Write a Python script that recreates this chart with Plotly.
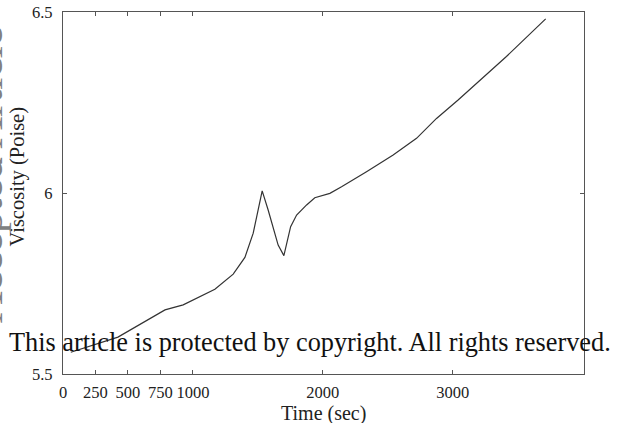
import plotly.graph_objects as go

# Viscosity measured over time
time_sec = [60, 423, 785, 925, 1169, 1310, 1400, 1464, 1533, 1579, 1656, 1700,
            1752, 1798, 1875, 1938, 2054, 2144, 2336, 2541, 2721, 2875, 3041,
            3156, 3413, 3715]
viscosity = [5.560, 5.602, 5.677, 5.691, 5.734, 5.776, 5.822, 5.889, 6.006,
             5.953, 5.856, 5.827, 5.907, 5.939, 5.967, 5.987, 5.999, 6.017,
             6.059, 6.105, 6.151, 6.206, 6.257, 6.294, 6.377, 6.481]

x_ticks = [0, 250, 500, 750, 1000, 2000, 3000]
y_ticks = [5.5, 6, 6.5]
y_tick_text = ["5.5", "6", "6.5"]

SERIF = "Liberation Serif, Times New Roman, serif"
INK = "#222222"

fig = go.Figure()
fig.add_trace(go.Scatter(
    x=time_sec, y=viscosity, mode="lines",
    line=dict(color="#333333", width=1.2),
    showlegend=False,
))

axis_common = dict(
    showline=True, linecolor="#555555", linewidth=1.3, mirror="ticks",
    ticks="inside", ticklen=4, tickcolor="#555555", tickwidth=1,
    showgrid=False, zeroline=False, automargin=False,
    tickfont=dict(family=SERIF, size=16.5, color=INK),
)

fig.update_xaxes(
    range=[0, 4010], tickvals=x_ticks, ticktext=[str(v) for v in x_ticks],
    tickangle=0, ticklabelstandoff=3,
    **axis_common,
)
fig.update_yaxes(
    range=[5.5, 6.5], tickvals=y_ticks, ticktext=y_tick_text,
    tickangle=0, ticklabelstandoff=6,
    **axis_common,
)

# Axis titles
fig.add_annotation(
    text="Time (sec)", xref="paper", yref="paper", x=0.5, y=-0.108,
    xanchor="center", yanchor="middle", showarrow=False,
    font=dict(family=SERIF, size=20, color=INK),
)
fig.add_annotation(
    text="Viscosity (Poise)", xref="paper", yref="paper", x=-0.087, y=0.545,
    xanchor="center", yanchor="middle", textangle=-90, showarrow=False,
    font=dict(family=SERIF, size=20.5, color=INK),
)

# Journal watermarks
fig.add_annotation(
    text="This article is protected by copyright. All rights reserved.",
    xref="paper", yref="paper", x=0.474, y=0.088, xanchor="center", yanchor="middle",
    showarrow=False, font=dict(family=SERIF, size=26.3, color="#111111"),
)
fig.add_annotation(
    text="Accepted Article",
    xref="paper", yref="paper", x=-0.145, y=0.55, xanchor="center", yanchor="middle",
    textangle=-90, showarrow=False,
    font=dict(family=SERIF, size=44, color="#808080"),
)

fig.update_layout(
    width=619, height=423,
    margin=dict(l=63, r=35, t=12, b=49),
    plot_bgcolor="white", paper_bgcolor="white",
)

fig.write_html("out.html")
